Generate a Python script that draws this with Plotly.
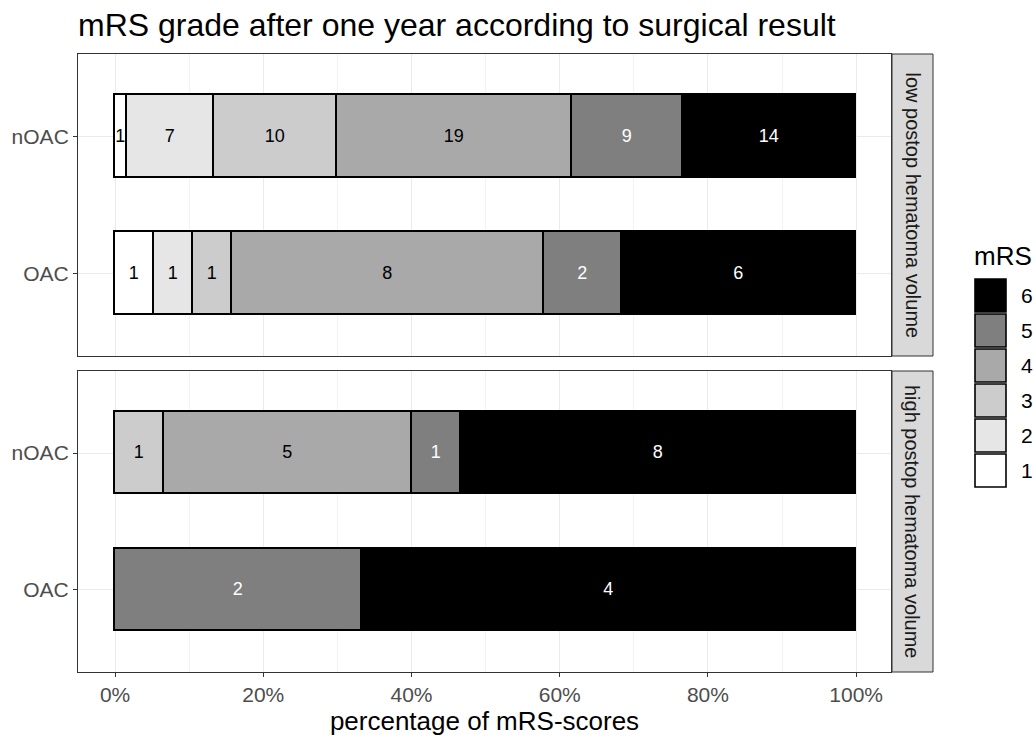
import plotly.graph_objects as go
from plotly.subplots import make_subplots

# ---------------- data ----------------
mrs_levels = ["1", "2", "3", "4", "5", "6"]
groups = ["nOAC", "OAC"]
panels = ["low postop hematoma volume", "high postop hematoma volume"]

low_nOAC = [1, 7, 10, 19, 9, 14]
low_OAC = [1, 1, 1, 8, 2, 6]
high_nOAC = [0, 0, 1, 5, 1, 8]
high_OAC = [0, 0, 0, 0, 2, 4]

fill_colors = ["#FFFFFF", "#E6E6E6", "#CCCCCC", "#A9A9A9", "#7F7F7F", "#000000"]
text_colors = ["#000000", "#000000", "#000000", "#000000", "#FFFFFF", "#FFFFFF"]

x_ticks = [0, 20, 40, 60, 80, 100]
x_tick_labels = ["0%", "20%", "40%", "60%", "80%", "100%"]

title_text = "mRS grade after one year according to surgical result"
x_title = "percentage of mRS-scores"
legend_title = "mRS"

panel_counts = [
    {"nOAC": low_nOAC, "OAC": low_OAC},
    {"nOAC": high_nOAC, "OAC": high_OAC},
]

# ---------------- layout geometry (pixels) ----------------
W, H = 1036, 739
ML, MR, MT, MB = 78, 145, 54, 67
PW = W - ML - MR
PH = H - MT - MB
FONT = "Liberation Sans, Arial, Helvetica, sans-serif"
TICK_SIZE = 21
STRIP_SIZE = 20
AXIS_TITLE_SIZE = 26
TITLE_SIZE = 32
BAR_TEXT_SIZE = 18


def px_x(px):
    return (px - ML) / PW


def px_y(py):
    return (H - MB - py) / PH


top_dom = [px_y(356), 1.0]
bot_dom = [0.0, px_y(371)]

fig = make_subplots(rows=2, cols=1, shared_xaxes=True, vertical_spacing=0.02)

for r, counts in enumerate(panel_counts, start=1):
    totals = {g: sum(counts[g]) for g in groups}
    for i, lvl in enumerate(mrs_levels):
        xs, ys, txt = [], [], []
        for g in groups:
            c = counts[g][i]
            ys.append(g)
            if c > 0:
                xs.append(c / totals[g] * 100)
                txt.append(str(c))
            else:
                xs.append(None)
                txt.append("")
        fig.add_trace(
            go.Bar(
                x=xs,
                y=ys,
                orientation="h",
                width=0.6,
                marker=dict(color=fill_colors[i], line=dict(color="#000000", width=1.6)),
                text=txt,
                textposition="inside",
                insidetextanchor="middle",
                textangle=0,
                constraintext="none",
                textfont=dict(color=text_colors[i], size=BAR_TEXT_SIZE, family=FONT),
                name=lvl,
                showlegend=False,
                hoverinfo="skip",
            ),
            row=r,
            col=1,
        )

axis_common = dict(
    showline=True,
    mirror=True,
    linecolor="#333333",
    linewidth=1,
    ticks="outside",
    ticklen=4,
    tickcolor="#333333",
    tickwidth=1,
    tickfont=dict(size=TICK_SIZE, color="#4D4D4D", family=FONT),
    showgrid=True,
    gridcolor="#EBEBEB",
    gridwidth=1,
    zeroline=False,
    automargin=False,
)

for r in (1, 2):
    fig.update_xaxes(
        range=[-5, 104.7],
        tickvals=x_ticks,
        ticktext=x_tick_labels,
        minor=dict(dtick=10, tick0=0, showgrid=True, gridcolor="#F3F3F3", gridwidth=1, ticks=""),
        row=r,
        col=1,
        **axis_common,
    )
    fig.update_yaxes(
        type="category",
        categoryorder="array",
        categoryarray=list(reversed(groups)),
        range=[-0.6, 1.6],
        row=r,
        col=1,
        **axis_common,
    )

fig.update_xaxes(showticklabels=False, ticks="", row=1, col=1)
fig.update_xaxes(
    title=dict(text=x_title, font=dict(size=AXIS_TITLE_SIZE, color="#000000", family=FONT), standoff=4),
    row=2,
    col=1,
)
fig.update_layout(yaxis=dict(domain=top_dom), yaxis2=dict(domain=bot_dom))

shapes = []
annotations = []

# facet strips
strip_x0, strip_x1 = px_x(892), px_x(933)
for dom, label in zip([top_dom, bot_dom], panels):
    shapes.append(
        dict(
            type="rect", xref="paper", yref="paper",
            x0=strip_x0, x1=strip_x1, y0=dom[0], y1=dom[1],
            fillcolor="#D9D9D9", line=dict(color="#333333", width=1), layer="above",
        )
    )
    annotations.append(
        dict(
            xref="paper", yref="paper", x=(strip_x0 + strip_x1) / 2, y=(dom[0] + dom[1]) / 2,
            text=label, textangle=90, showarrow=False,
            font=dict(size=STRIP_SIZE, color="#1A1A1A", family=FONT),
            xanchor="center", yanchor="middle",
        )
    )

# legend (drawn manually, ggplot style)
annotations.append(
    dict(
        xref="paper", yref="paper", x=px_x(972), y=px_y(256), text=legend_title,
        showarrow=False, xanchor="left", yanchor="middle",
        font=dict(size=AXIS_TITLE_SIZE, color="#000000", family=FONT),
    )
)
key_top = 279
key_pitch = 35
for j, idx in enumerate(reversed(range(len(mrs_levels)))):
    y0 = key_top + j * key_pitch
    y1 = y0 + key_pitch - 2
    shapes.append(
        dict(
            type="rect", xref="paper", yref="paper",
            x0=px_x(975), x1=px_x(1006), y0=px_y(y1), y1=px_y(y0),
            fillcolor=fill_colors[idx], line=dict(color="#000000", width=1.6),
        )
    )
    annotations.append(
        dict(
            xref="paper", yref="paper", x=px_x(1019), y=px_y((y0 + y1) / 2),
            text=mrs_levels[idx], showarrow=False, xanchor="left", yanchor="middle",
            font=dict(size=TICK_SIZE, color="#000000", family=FONT),
        )
    )

fig.update_layout(
    width=W,
    height=H,
    margin=dict(l=ML, r=MR, t=MT, b=MB, autoexpand=False),
    barmode="stack",
    bargap=0,
    plot_bgcolor="#FFFFFF",
    paper_bgcolor="#FFFFFF",
    font=dict(family=FONT),
    showlegend=False,
    title=dict(
        text=title_text, x=ML / W, xanchor="left",
        y=1 - 25 / H, yanchor="middle",
        font=dict(size=TITLE_SIZE, color="#000000", family=FONT),
    ),
    shapes=shapes,
    annotations=annotations,
)

fig.write_html(
    "out.html",
    config={"displayModeBar": False},
    post_script="document.body.style.margin='0';document.body.style.padding='0';",
)
